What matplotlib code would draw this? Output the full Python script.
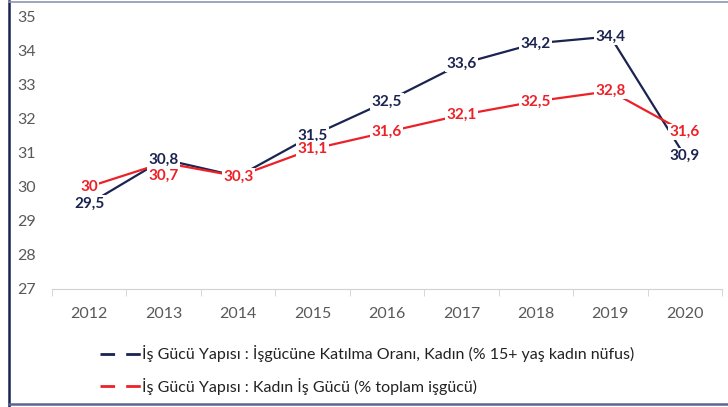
import matplotlib
matplotlib.use("Agg")
import matplotlib.pyplot as plt
from matplotlib.lines import Line2D

years = ["2012", "2013", "2014", "2015", "2016", "2017", "2018", "2019", "2020"]
katilma = [29.5, 30.8, 30.3, 31.5, 32.5, 33.6, 34.2, 34.4, 30.9]
kadin_isgucu = [30.0, 30.7, 30.3, 31.1, 31.6, 32.1, 32.5, 32.8, 31.6]
yticks = [27, 28, 29, 30, 31, 32, 33, 34, 35]
legend_labels = [
    "İş Gücü Yapısı : İşgücüne Katılma Oranı, Kadın (% 15+ yaş kadın nüfus)",
    "İş Gücü Yapısı : Kadın İş Gücü (% toplam işgücü)",
]

navy = "#1b2350"
red = "#ec2127"
grey = "#595959"

plt.rcParams['font.family'] = ['Lato', 'DejaVu Sans']

fig = plt.figure(figsize=(7.28, 4.07), dpi=100)
ax = fig.add_axes([52 / 728, 1 - 289 / 407, 670 / 728, 273 / 407])

x = list(range(len(years)))
ax.plot(x, katilma, color=navy, lw=1.6, zorder=2)
ax.plot(x, kadin_isgucu, color=red, lw=1.6, zorder=3)

box = dict(facecolor="white", edgecolor="none", pad=1.0)
for i, v in enumerate(katilma):
    ax.text(i, v, f"{v:g}".replace(".", ","), color=navy, fontsize=11,
            fontweight="bold", ha="center", va="center", bbox=box, zorder=4)
# the 2013 red label sits below its point in the reference
red_dy = {1: -0.38}
for i, v in enumerate(kadin_isgucu):
    ax.text(i, v + red_dy.get(i, 0), f"{v:g}".replace(".", ","), color=red,
            fontsize=11, fontweight="bold", ha="center", va="center",
            bbox=box, zorder=5)

ax.set_xlim(-0.5, len(years) - 0.5)
ax.set_ylim(27, 35)
ax.set_yticks(yticks)
ax.set_xticks(x)
ax.set_xticklabels(years)
ax.set_xticks([i - 0.5 for i in range(len(years) + 1)], minor=True)
ax.tick_params(axis="x", which="major", length=0, pad=13, labelsize=11.5,
               labelcolor=grey)
ax.tick_params(axis="x", which="minor", length=5, color="#d0d0d0")
ax.tick_params(axis="y", length=0, pad=25, labelsize=11.5, labelcolor=grey)
for lbl in ax.get_yticklabels():
    lbl.set_horizontalalignment("left")
for s in ["top", "right", "left"]:
    ax.spines[s].set_visible(False)
ax.spines["bottom"].set_color("#d0d0d0")

handles = [Line2D([], [], color=navy, lw=2, ls=(0, (5.25, 4))),
           Line2D([], [], color=red, lw=2, ls=(0, (5.25, 4)))]
fig.legend(handles, legend_labels, loc="upper left",
           bbox_to_anchor=(86 / 728, 1 - 331 / 407), frameon=False,
           fontsize=11.5, handlelength=2.55, handletextpad=0.05,
           labelspacing=0.95, labelcolor="#222222")

# outer frame
fig.add_artist(Line2D([9 / 728, 9 / 728], [0.5 / 407, 1 - 1 / 407],
                      color=navy, lw=1.8, transform=fig.transFigure))
fig.add_artist(Line2D([9 / 728, 1], [1 - 1.5 / 407, 1 - 1.5 / 407],
                      color="#8f95b0", lw=1.2, transform=fig.transFigure))
fig.add_artist(Line2D([9 / 728, 1], [3 / 407, 3 / 407],
                      color="#5a6690", lw=1.8, transform=fig.transFigure))

fig.savefig("out.png", dpi=100)
